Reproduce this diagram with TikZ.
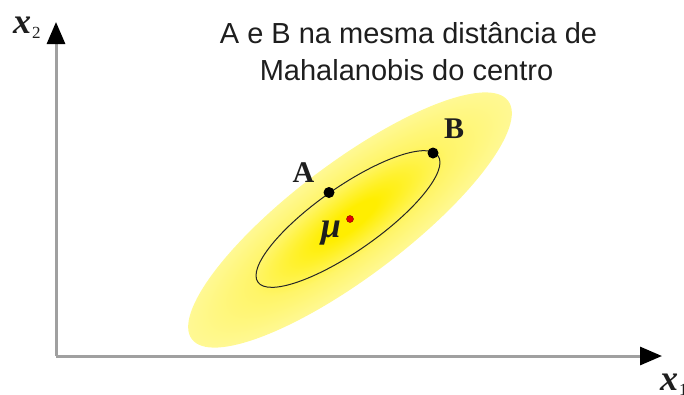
\documentclass[tikz,border=0pt]{standalone}
\usepackage{fontspec}
\setmainfont{Liberation Serif}
\newfontfamily\sansf{Liberation Sans}
\usetikzlibrary{arrows.meta}
\definecolor{ycore}{RGB}{255,238,0}
\definecolor{yinner}{RGB}{255,245,105}
\definecolor{ymid}{RGB}{255,250,165}
\definecolor{yedge}{RGB}{255,252,196}
\definecolor{axisgray}{RGB}{160,160,160}
\definecolor{txtdark}{RGB}{30,30,30}
\pgfdeclareradialshading{ellshade}{\pgfpoint{0bp}{0bp}}{color(0bp)=(ycore); color(4bp)=(ycore); color(15bp)=(yinner); color(29bp)=(ymid); color(50bp)=(yedge)}
\tikzset{
  axisline/.style={draw=axisgray, line width=3pt, -{Triangle[length=22pt,width=18pt,black]}},
  ptdot/.style={circle, fill=black, inner sep=0pt, minimum size=11pt},
  ptlabel/.style={inner sep=0pt, font=\fontsize{30}{30}\selectfont\bfseries, text=txtdark},
  titletext/.style={inner sep=0pt, anchor=base, font=\sansf\fontsize{29}{29}\selectfont, text=txtdark},
  axlabel/.style={inner sep=0pt, anchor=base west, text=txtdark}
}
\newcommand{\axx}[1]{{\fontsize{36}{36}\selectfont\bfseries\itshape x}\kern1pt\raisebox{-5pt}{\fontsize{17}{17}\selectfont #1}}
\begin{document}
\begin{tikzpicture}[x=1pt,y=-1pt]
\useasboundingbox (0,0) rectangle (684,394);
% shaded outer ellipse
\begin{scope}[transform canvas={shift={(350pt,-220pt)},rotate=37,yscale=0.288}]
  \shade[shading=ellshade] (0pt,0pt) circle (198pt);
\end{scope}
% inner ellipse
\draw[line width=1pt, black!85, rotate around={35:(348,219)}] (348,219) ellipse [x radius=110, y radius=32];
% axes
\coordinate (O) at (56,356);
\coordinate (Xe) at (662,356);
\coordinate (Ye) at (56,22);
\draw[axisline] (O) -- (Xe);
\draw[axisline] (O) -- (Ye);
\node[axlabel] (x2lab) at (13,33) {\axx{2}};
\node[axlabel] (x1lab) at (660,390) {\axx{1}};
% title
\node[titletext] (t1) at (408.5,43) {A e B na mesma distância de};
\node[titletext] (t2) at (406.5,80) {Mahalanobis do centro};
% points
\node[ptdot] (A) at (329,192.5) {};
\node[ptdot] (B) at (433,153) {};
\node[circle, fill=red!90!black, draw=red!50!black, line width=0.4pt, inner sep=0pt, minimum size=7pt] (mu) at (350,219) {};
\node[ptlabel] (Alab) at (303.5,173) {A};
\node[ptlabel] (Blab) at (454,129) {B};
\node[inner sep=0pt, text=txtdark, font=\fontsize{36}{36}\selectfont\bfseries\itshape] (mulab) at (331,233) {μ};
\end{tikzpicture}
\end{document}
